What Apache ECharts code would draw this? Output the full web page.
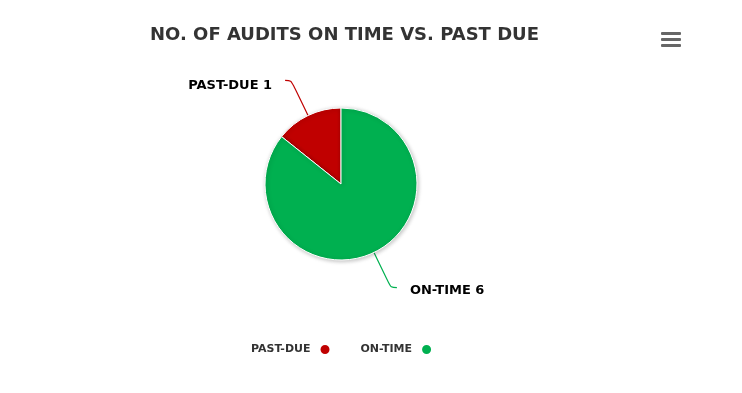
<!DOCTYPE html>
<html>
<head>
<meta charset="utf-8">
<script src="https://cdn.jsdelivr.net/npm/echarts@6/dist/echarts.min.js"></script>
<style>
html,body{margin:0;padding:0;background:#fff;}
#chart{width:742px;height:393px;}
</style>
</head>
<body>
<div id="chart"></div>
<script>
var titleText = 'NO. OF AUDITS ON TIME VS. PAST DUE';
var categories = ['PAST-DUE', 'ON-TIME'];
var values = [1, 6];
var colors = ['#C00000', '#00B050'];

var chart = echarts.init(document.getElementById('chart'));
var data = categories.map(function (c, i) {
  return { name: c, value: values[i], itemStyle: { color: colors[i] }, labelLine: { lineStyle: { color: colors[i] } } };
});
chart.setOption({
  animation: false,
  title: {
    text: titleText,
    left: 145,
    top: 21,
    textStyle: { fontFamily: 'DejaVu Sans', fontWeight: 'bold', fontSize: 18, color: '#333333' }
  },
  legend: {
    data: categories,
    top: 338,
    left: 246,
    align: 'right',
    icon: 'circle',
    itemWidth: 11,
    itemHeight: 11,
    itemGap: 29,
    textStyle: { fontFamily: 'DejaVu Sans', fontWeight: 'bold', fontSize: 11, color: '#333333', padding: [0, 4, 0, 0] }
  },
  graphic: [
    { type: 'rect', shape: { x: 661, y: 32, width: 20, height: 3, r: 1 }, style: { fill: '#666666' } },
    { type: 'rect', shape: { x: 661, y: 38, width: 20, height: 3, r: 1 }, style: { fill: '#666666' } },
    { type: 'rect', shape: { x: 661, y: 44, width: 20, height: 3, r: 1 }, style: { fill: '#666666' } }
  ],
  series: [{
    type: 'pie',
    center: [341, 184],
    radius: 76,
    startAngle: 90,
    clockwise: false,
    data: data,
    itemStyle: {
      borderColor: '#ffffff',
      borderWidth: 1,
      shadowBlur: 4,
      shadowOffsetX: 1,
      shadowOffsetY: 1,
      shadowColor: 'rgba(0,0,0,0.25)'
    },
    label: {
      show: true,
      formatter: '{b} {c}',
      fontFamily: 'DejaVu Sans',
      fontWeight: 'bold',
      fontSize: 13,
      color: '#000000',
      distanceToLabelLine: 13
    },
    labelLine: {
      show: true,
      length: 39,
      length2: 6,
      smooth: 0.3,
      lineStyle: { width: 1.2 }
    },
    labelLayout: function (params) {
      return { dy: params.dataIndex === 0 ? 5 : 3 };
    },
    emphasis: { scale: false }
  }]
});
</script>
</body>
</html>
